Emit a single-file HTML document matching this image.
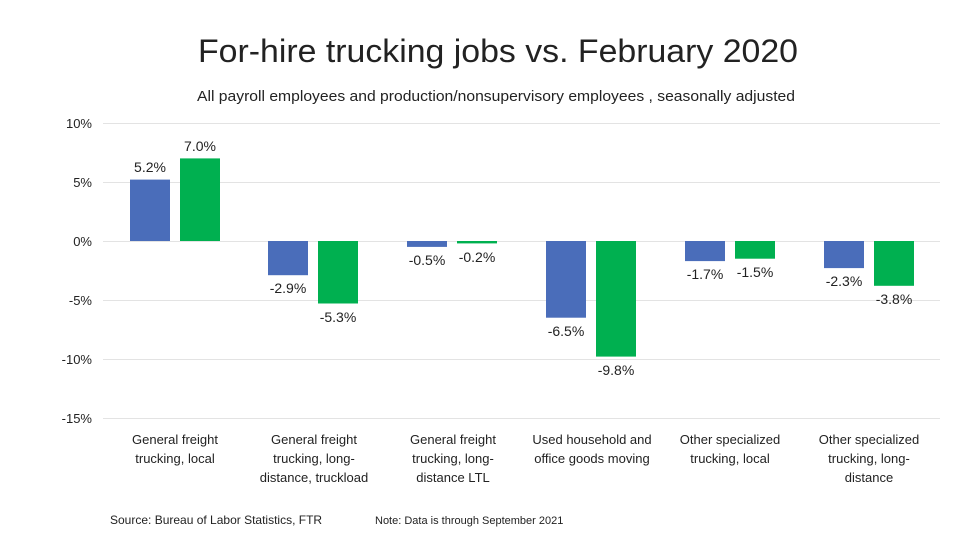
<!DOCTYPE html>
<html><head><style>
body{margin:0;background:#fff;}
svg text{font-family:"Liberation Sans",sans-serif;fill:#222;}
</style></head><body>
<svg width="980" height="552" viewBox="0 0 980 552" xmlns="http://www.w3.org/2000/svg">
<rect width="980" height="552" fill="#fff"/>
<text x="198" y="62" font-size="32" textLength="600" lengthAdjust="spacingAndGlyphs" fill="#111">For-hire trucking jobs vs. February 2020</text>
<text x="197" y="101" font-size="14.5" textLength="598" lengthAdjust="spacingAndGlyphs">All payroll employees and production/nonsupervisory employees , seasonally adjusted</text>
<g stroke="#e3e3e3" stroke-width="1">
<line x1="103" x2="940" y1="123.5" y2="123.5"/>
<line x1="103" x2="940" y1="182.5" y2="182.5"/>
<line x1="103" x2="940" y1="241.5" y2="241.5"/>
<line x1="103" x2="940" y1="300.5" y2="300.5"/>
<line x1="103" x2="940" y1="359.5" y2="359.5"/>
<line x1="103" x2="940" y1="418.5" y2="418.5"/>
</g>
<g font-size="13" text-anchor="end">
<text x="92" y="128">10%</text>
<text x="92" y="187">5%</text>
<text x="92" y="246">0%</text>
<text x="92" y="305">-5%</text>
<text x="92" y="364">-10%</text>
<text x="92" y="423">-15%</text>
</g>
<g>
<rect x="130" y="179.6" width="40" height="61.4" fill="#4A6DBA"/>
<rect x="180" y="158.4" width="40" height="82.6" fill="#00B050"/>
<rect x="268" y="241" width="40" height="34.2" fill="#4A6DBA"/>
<rect x="318" y="241" width="40" height="62.5" fill="#00B050"/>
<rect x="407" y="241" width="40" height="5.9" fill="#4A6DBA"/>
<rect x="457" y="241" width="40" height="2.4" fill="#00B050"/>
<rect x="546" y="241" width="40" height="76.7" fill="#4A6DBA"/>
<rect x="596" y="241" width="40" height="115.6" fill="#00B050"/>
<rect x="685" y="241" width="40" height="20.1" fill="#4A6DBA"/>
<rect x="735" y="241" width="40" height="17.7" fill="#00B050"/>
<rect x="824" y="241" width="40" height="27.1" fill="#4A6DBA"/>
<rect x="874" y="241" width="40" height="44.8" fill="#00B050"/>
</g>
<g font-size="14" text-anchor="middle">
<text x="150" y="172">5.2%</text>
<text x="200" y="151">7.0%</text>
<text x="288" y="293">-2.9%</text>
<text x="338" y="322">-5.3%</text>
<text x="427" y="265">-0.5%</text>
<text x="477" y="262">-0.2%</text>
<text x="566" y="336">-6.5%</text>
<text x="616" y="375">-9.8%</text>
<text x="705" y="279">-1.7%</text>
<text x="755" y="277">-1.5%</text>
<text x="844" y="286">-2.3%</text>
<text x="894" y="304">-3.8%</text>
</g>
<g font-size="13" text-anchor="middle">
<text x="175" y="444">General freight</text><text x="175" y="463">trucking, local</text>
<text x="314" y="444">General freight</text><text x="314" y="463">trucking, long-</text><text x="314" y="482">distance, truckload</text>
<text x="453" y="444">General freight</text><text x="453" y="463">trucking, long-</text><text x="453" y="482">distance LTL</text>
<text x="592" y="444">Used household and</text><text x="592" y="463">office goods moving</text>
<text x="730" y="444">Other specialized</text><text x="730" y="463">trucking, local</text>
<text x="869" y="444">Other specialized</text><text x="869" y="463">trucking, long-</text><text x="869" y="482">distance</text>
</g>
<text x="110" y="524" font-size="12">Source: Bureau of Labor Statistics, FTR</text>
<text x="375" y="524" font-size="11">Note: Data is through September 2021</text>
</svg>
</body></html>
